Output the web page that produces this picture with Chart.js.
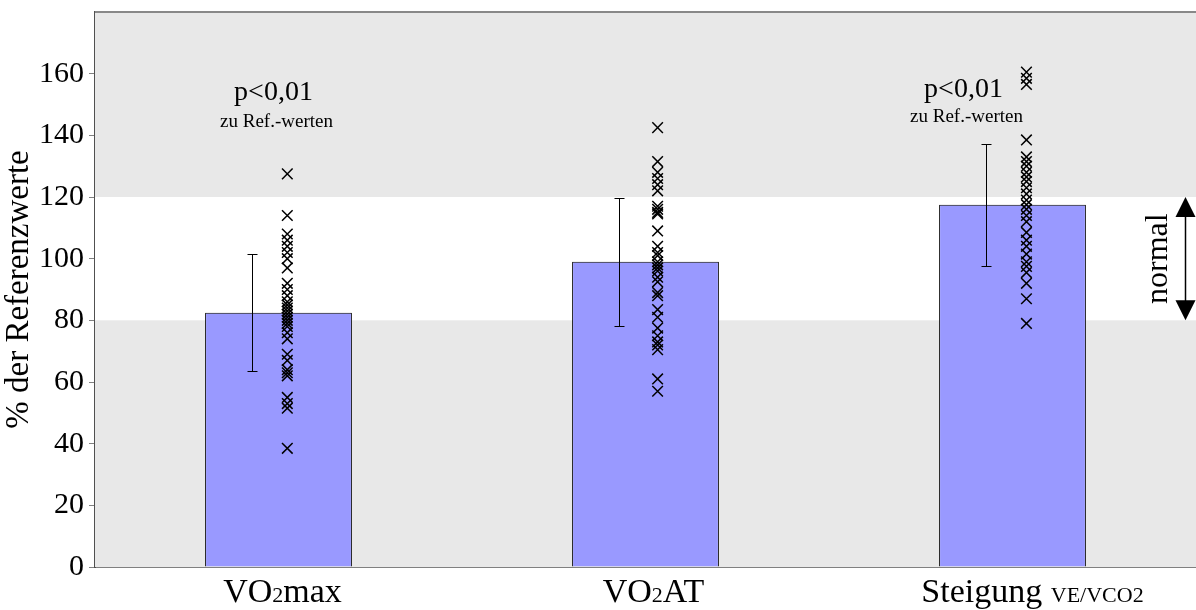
<!DOCTYPE html>
<html>
<head>
<meta charset="utf-8">
<script src="https://cdn.jsdelivr.net/npm/chart.js@4/dist/chart.umd.min.js"></script>
<style>
  html, body { margin: 0; padding: 0; background: #fff; overflow: hidden; }
  /* a bit wider than the window: the scatter points make Chart.js keep ~9px free on the right */
  #wrap { width: 1205px; height: 610px; }
</style>
</head>
<body>
<div id="wrap"><canvas id="chart"></canvas></div>
<script>
// data
const categories = ['VO2max', 'VO2AT', 'Steigung VE/VCO2'];
const means = [82.5, 99, 117.5];
const sds = [19, 20.7, 19.8];
const vo2max = [127.5, 114, 108, 106, 104, 102, 100, 97, 92, 90, 88, 86, 85, 84, 83, 82, 81, 80, 79, 78, 76, 74, 69, 67, 64, 63, 62, 55, 53, 51.5, 38.5];
const vo2at = [142.5, 131.5, 128, 126, 124, 122, 117, 116, 115, 114.5, 109, 104, 102, 101, 99, 98, 97, 96, 94, 92.5, 89, 88, 83.5, 81, 77.5, 75, 73, 72, 70.5, 61, 57];
const steigung = [160.5, 158.5, 156.5, 138.5, 133, 131.5, 130, 128, 126.5, 125, 123, 121, 119, 117.5, 116, 114, 112, 108.5, 106, 104, 101.5, 99, 97.5, 95.5, 92, 87, 79];
const yTicks = [0, 20, 40, 60, 80, 100, 120, 140, 160];
const normalRange = [80, 120];
const pNotes = [{ cat: 0, text: 'p<0,01', sub: 'zu Ref.-werten' }, { cat: 2, text: 'p<0,01', sub: 'zu Ref.-werten' }];
// label pieces: [text, small?]
const labelParts = [
  [['VO', false], ['2', true], ['max', false]],
  [['VO', false], ['2', true], ['AT', false]],
  [['Steigung ', false], ['VE/VCO2', true]]
];

const serif = '"Liberation Serif", "Times New Roman", serif';
const scatterOffset = [0.024, 0.033, 0.038];
const errOffset = -0.073;
const noteShift = [-5, -49];
const noteBase = [[100, 127], [97, 122]];
const labelShift = [4, 8, 20];

const points = [];
[vo2max, vo2at, steigung].forEach((arr, i) => arr.forEach(v => points.push({ x: i + scatterOffset[i], y: v })));

const bandPlugin = {
  id: 'bands',
  beforeDatasetsDraw(chart) {
    const { ctx, chartArea: a, scales: { y } } = chart;
    ctx.save();
    ctx.fillStyle = '#e8e8e8';
    ctx.fillRect(a.left, a.top, a.right - a.left, a.bottom - a.top);
    const yHi = y.getPixelForValue(normalRange[1]);
    const yLo = y.getPixelForValue(normalRange[0]);
    ctx.fillStyle = '#ffffff';
    ctx.fillRect(a.left, yHi, a.right - a.left, yLo - yHi);
    // top frame line
    ctx.strokeStyle = '#888888';
    ctx.lineWidth = 2;
    ctx.beginPath();
    ctx.moveTo(a.left, a.top); ctx.lineTo(a.right, a.top);
    ctx.stroke();
    ctx.restore();
  }
};

const extrasPlugin = {
  id: 'extras',
  afterDatasetsDraw(chart) {
    const { ctx, chartArea: a, scales: { y, xs } } = chart;
    ctx.save();
    // error bars
    ctx.strokeStyle = '#000';
    ctx.lineWidth = 1;
    means.forEach((m, i) => {
      const x = Math.round(xs.getPixelForValue(i + errOffset)) + 0.5;
      const t = Math.round(y.getPixelForValue(m + sds[i])) + 0.5;
      const b = Math.round(y.getPixelForValue(m - sds[i])) + 0.5;
      ctx.beginPath();
      ctx.moveTo(x, t); ctx.lineTo(x, b);
      ctx.moveTo(x - 5, t); ctx.lineTo(x + 5, t);
      ctx.moveTo(x - 5, b); ctx.lineTo(x + 5, b);
      ctx.stroke();
    });
    // p notes
    ctx.fillStyle = '#000';
    ctx.textAlign = 'center';
    ctx.textBaseline = 'alphabetic';
    pNotes.forEach((n, k) => {
      const x = xs.getPixelForValue(n.cat) + noteShift[k];
      ctx.font = '28px ' + serif;
      ctx.fillText(n.text, x, noteBase[k][0]);
      ctx.font = '19px ' + serif;
      ctx.fillText(n.sub, x + 3, noteBase[k][1]);
    });
    // normal arrow
    const ax = 1185.5;
    const yHi = y.getPixelForValue(normalRange[1]);
    const yLo = y.getPixelForValue(normalRange[0]);
    ctx.beginPath();
    ctx.moveTo(ax, yHi + 16); ctx.lineTo(ax, yLo - 16);
    ctx.lineWidth = 1.5;
    ctx.stroke();
    ctx.beginPath();
    ctx.moveTo(ax, yHi); ctx.lineTo(ax - 10, yHi + 20); ctx.lineTo(ax + 10, yHi + 20); ctx.closePath();
    ctx.moveTo(ax, yLo); ctx.lineTo(ax - 10, yLo - 20); ctx.lineTo(ax + 10, yLo - 20); ctx.closePath();
    ctx.fill();
    ctx.save();
    ctx.translate(1159, (yHi + yLo) / 2);
    ctx.rotate(-Math.PI / 2);
    ctx.font = '32px ' + serif;
    ctx.textBaseline = 'middle';
    ctx.fillText('normal', 0, 0);
    ctx.restore();
    // x labels with small parts
    labelParts.forEach((parts, i) => {
      const widths = parts.map(([t, s]) => { ctx.font = (s ? '22px ' : '34px ') + serif; return ctx.measureText(t).width; });
      const total = widths.reduce((p, c) => p + c, 0);
      let x = xs.getPixelForValue(i) + labelShift[i] - total / 2;
      ctx.textAlign = 'left';
      parts.forEach(([t, s], k) => {
        ctx.font = (s ? '22px ' : '34px ') + serif;
        ctx.fillText(t, x, 602);
        x += widths[k];
      });
    });
    ctx.restore();
  }
};

new Chart(document.getElementById('chart').getContext('2d'), {
  data: {
    labels: categories,
    datasets: [
      {
        type: 'bar',
        data: means,
        backgroundColor: '#9999ff',
        borderColor: '#000',
        borderWidth: 1,
        grouped: false,
        categoryPercentage: 1,
        barPercentage: 0.4,
        order: 2
      },
      {
        type: 'scatter',
        xAxisID: 'xs',
        data: points,
        pointStyle: 'crossRot',
        radius: 7.5,
        hoverRadius: 7.5,
        borderColor: '#000',
        borderWidth: 1.5,
        order: 1
      }
    ]
  },
  options: {
    responsive: true,
    maintainAspectRatio: false,
    animation: false,
    layout: { padding: { top: 12, right: 0, left: 0, bottom: 0 } },
    plugins: { legend: { display: false }, tooltip: { enabled: false } },
    scales: {
      x: {
        type: 'category',
        grid: { display: false },
        border: { color: '#808080', width: 2 },
        ticks: { display: false },
        afterFit(s) { s.height = 43; }
      },
      xs: {
        type: 'linear',
        display: false,
        min: -0.5,
        max: 2.5
      },
      y: {
        min: 0,
        max: 180,
        border: { color: '#505050', width: 2 },
        grid: { drawOnChartArea: false, color: '#808080', tickLength: 6 },
        ticks: {
          stepSize: 20,
          color: '#000',
          font: { family: serif, size: 30 },
          padding: 5,
          callback: v => yTicks.includes(v) ? v : null
        },
        title: {
          display: true,
          text: '% der Referenzwerte',
          color: '#000',
          font: { family: serif, size: 33 },
          padding: { top: 0, bottom: 0 }
        },
        afterFit(s) { s.width = 95; s.paddingTop = 0; s.paddingBottom = 0; }
      }
    }
  },
  plugins: [bandPlugin, extrasPlugin]
});
</script>
</body>
</html>
